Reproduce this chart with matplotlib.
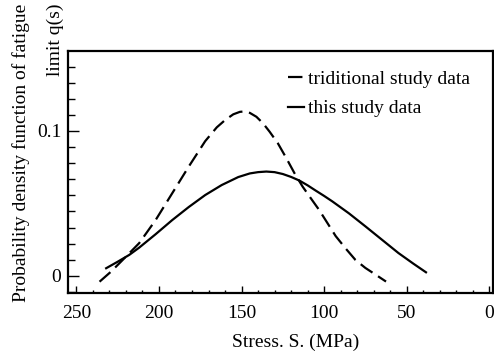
import matplotlib
matplotlib.use("Agg")
import matplotlib.pyplot as plt
from matplotlib.ticker import MultipleLocator

# Data
trad_stress = [236, 229, 222, 212, 202, 192, 182, 172, 165, 160, 155, 151, 148, 145, 141,
               137, 133, 128, 123, 118, 113, 108, 103, 98, 93, 87, 81, 75, 69, 62.5]
trad_pdf = [-0.004, 0.003, 0.011, 0.0226, 0.0386, 0.057, 0.0754, 0.093, 0.1025, 0.1075, 0.1115,
            0.1132, 0.1135, 0.1125, 0.1098, 0.1053, 0.0995, 0.0915, 0.0815, 0.071, 0.0616,
            0.0535, 0.0455, 0.0365, 0.0275, 0.019, 0.011, 0.0055, 0.001, -0.0039]

this_stress = [232, 225, 218, 212, 202, 192, 182, 172, 162, 152, 145, 140, 135, 130, 125,
               120, 115, 110, 105, 100, 95, 85, 75, 65, 55, 46, 38.3]
this_pdf = [0.0053, 0.0098, 0.0145, 0.0195, 0.0288, 0.0385, 0.0475, 0.0558, 0.0627, 0.0682,
            0.0707, 0.0716, 0.072, 0.0716, 0.0703, 0.0683, 0.0658, 0.0625, 0.0588, 0.0552,
            0.0514, 0.0432, 0.0342, 0.025, 0.0158, 0.0085, 0.0025]

x_major = [250, 200, 150, 100, 50, 0]
y_major = [0, 0.1]
y_major_labels = ["0", "0.1"]

plt.rcParams['font.family'] = ['Liberation Serif', 'DejaVu Serif']
FS = 14

fig = plt.figure(figsize=(4.94, 3.52), dpi=100)
ax = fig.add_axes([0.138, 0.168, 0.859, 0.688])

ax.plot(trad_stress, trad_pdf, color='black', lw=1.6, ls=(0, (6.5, 3)), label='triditional study data')
ax.plot(this_stress, this_pdf, color='black', lw=1.6, label='this study data')

ax.set_xlim(255, -2)
ax.set_ylim(-0.0117, 0.1554)

ax.set_xticks(x_major)
ax.set_xticklabels([str(v) for v in x_major])
ax.xaxis.set_minor_locator(MultipleLocator(10))
ax.set_yticks(y_major)
ax.set_yticklabels(y_major_labels)
ax.yaxis.set_minor_locator(MultipleLocator(0.1 / 9))

ax.tick_params(axis='x', which='major', direction='in', length=5, width=1, labelsize=FS, pad=9)
ax.tick_params(axis='x', which='minor', direction='in', length=2.5, width=1)
ax.tick_params(axis='y', which='major', direction='in', length=8, width=1, labelsize=FS, pad=5)
ax.tick_params(axis='y', which='minor', direction='in', length=5, width=1)
ax.tick_params(axis='x', which='both', top=False)
ax.tick_params(axis='y', which='both', right=False)

for s in ax.spines.values():
    s.set_linewidth(1.6)

ax.set_xlabel("Stress. S. (MPa)", fontsize=FS)
ax.xaxis.set_label_coords(0.535, -0.17)

fig.text(0.042, 0.99, "Probability density function of fatigue", rotation=90,
         ha='center', va='top', fontsize=FS)
fig.text(0.112, 0.99, "limit q(s)", rotation=90, ha='center', va='top', fontsize=FS)

ax.legend(loc='upper left', bbox_to_anchor=(0.5, 0.95), frameon=False, fontsize=FS,
          handlelength=0.8, handletextpad=0.2, labelspacing=0.6, borderaxespad=0)

fig.savefig("out.png", dpi=100)
